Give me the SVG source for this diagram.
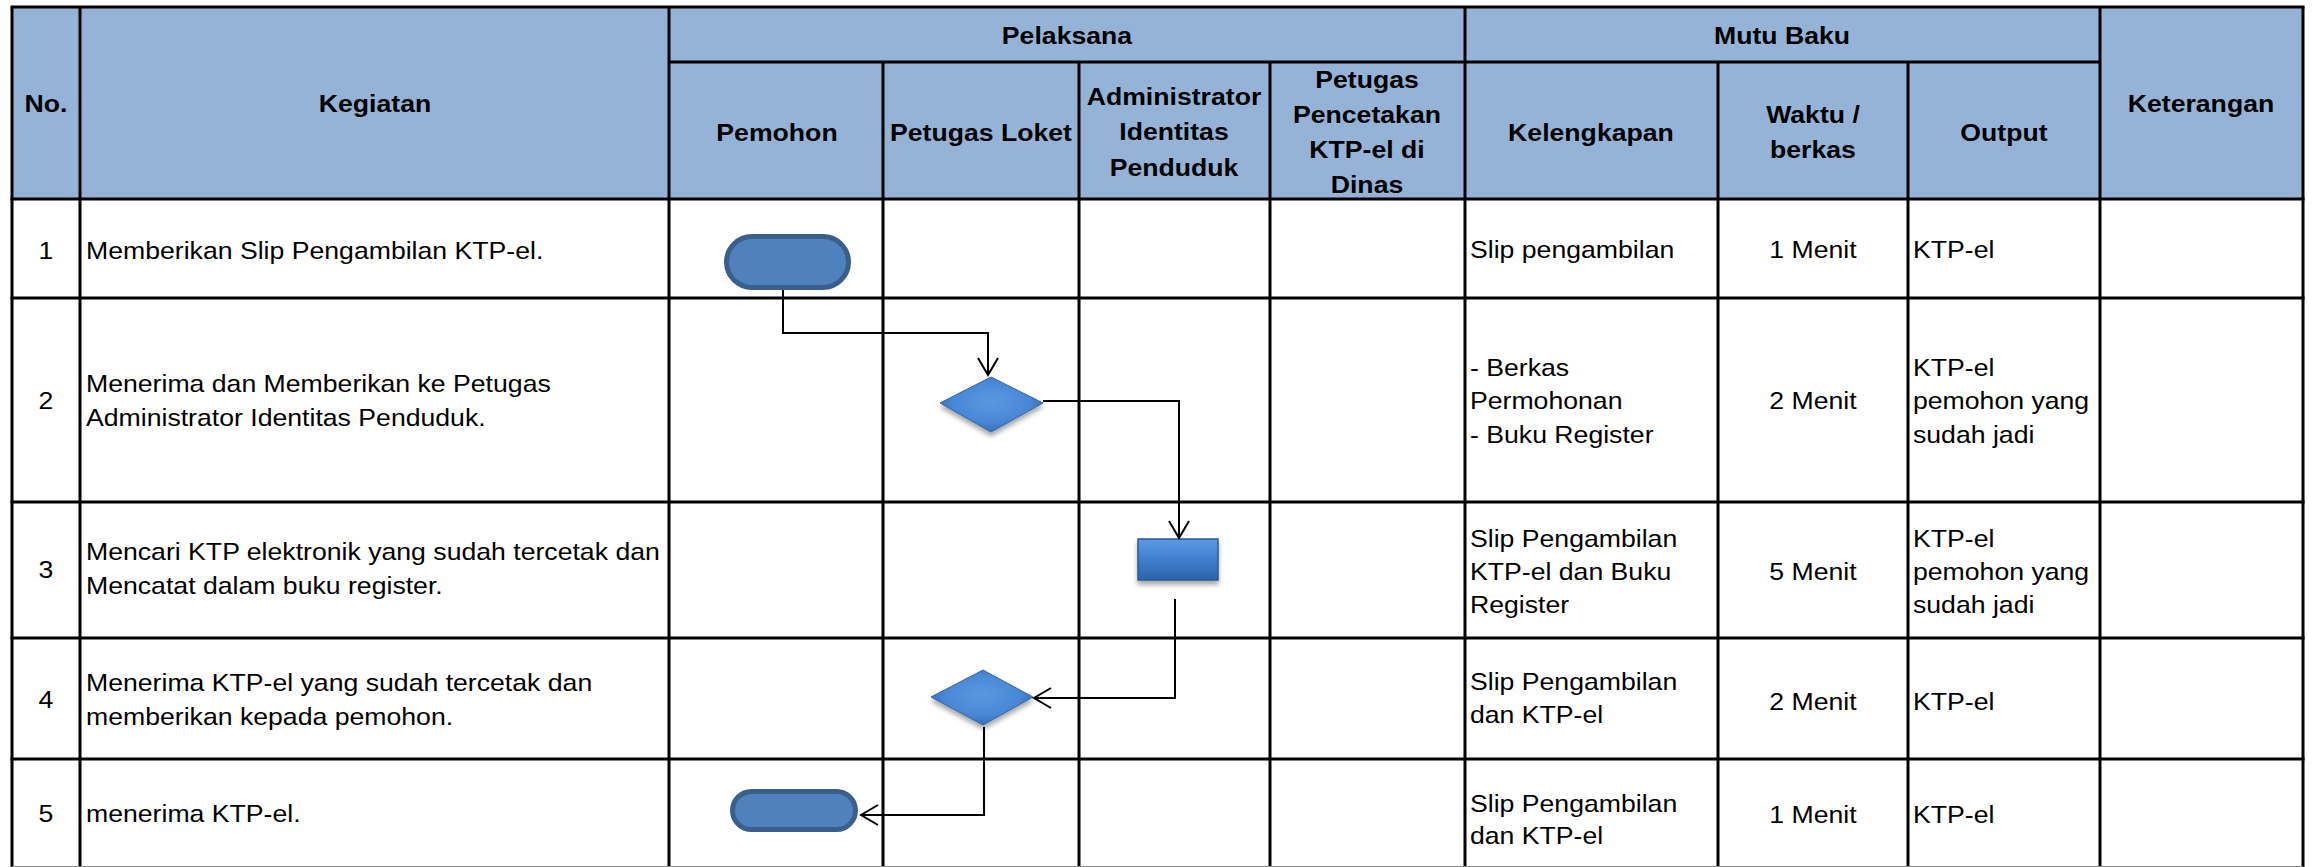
<svg xmlns="http://www.w3.org/2000/svg" width="2315" height="867" viewBox="0 0 2315 867">
<style>
.hd{font-family:"Liberation Sans",Arial,sans-serif;font-size:24px;font-weight:bold;fill:#000;text-anchor:middle}
.tx{font-family:"Liberation Sans",Arial,sans-serif;font-size:24px;fill:#000}
.c{text-anchor:middle}
.grid{stroke:#000;stroke-width:3;fill:none}
.conn{stroke:#000;stroke-width:2;fill:none}
.term{fill:#4F81BD;stroke:#3A5F8D;stroke-width:5}
.dec{fill:url(#gDia);stroke:#3566A6;stroke-width:1;filter:url(#sh)}
.proc{fill:url(#gRect);stroke:#2A5A98;stroke-width:1.5;filter:url(#sh)}
</style>
<defs>
<radialGradient id="gDia" cx="0.5" cy="0.45" r="0.6">
<stop offset="0" stop-color="#5B98E0"/>
<stop offset="0.6" stop-color="#4A88D6"/>
<stop offset="1" stop-color="#2E68B2"/>
</radialGradient>
<linearGradient id="gRect" x1="0" y1="0" x2="0" y2="1">
<stop offset="0" stop-color="#5F9BE3"/>
<stop offset="0.5" stop-color="#3F7FCF"/>
<stop offset="1" stop-color="#2C62AA"/>
</linearGradient>
<filter id="sh" x="-20%" y="-20%" width="140%" height="160%">
<feGaussianBlur in="SourceAlpha" stdDeviation="2.5"/>
<feOffset dx="0" dy="4" result="b"/>
<feComponentTransfer><feFuncA type="linear" slope="0.35"/></feComponentTransfer>
<feMerge><feMergeNode/><feMergeNode in="SourceGraphic"/></feMerge>
</filter>
<marker id="arr" viewBox="0 0 20 22" refX="18" refY="11" markerWidth="20" markerHeight="22" markerUnits="userSpaceOnUse" orient="auto">
<path d="M1 1 L18 11 L1 21" fill="none" stroke="#000" stroke-width="2"/>
</marker>
</defs>
<rect width="2315" height="867" fill="#fff"/>
<g id="table">
<rect x="12" y="7" width="2291" height="192" fill="#95B3D7"/>
<g class="grid">
<line x1="10.5" y1="7" x2="2304.5" y2="7"/>
<line x1="669" y1="62" x2="2100" y2="62"/>
<line x1="10.5" y1="199" x2="2304.5" y2="199"/>
<line x1="10.5" y1="298" x2="2304.5" y2="298"/>
<line x1="10.5" y1="502" x2="2304.5" y2="502"/>
<line x1="10.5" y1="638" x2="2304.5" y2="638"/>
<line x1="10.5" y1="759" x2="2304.5" y2="759"/>
<line x1="12" y1="7" x2="12" y2="867"/>
<line x1="80" y1="7" x2="80" y2="867"/>
<line x1="669" y1="7" x2="669" y2="867"/>
<line x1="1465" y1="7" x2="1465" y2="867"/>
<line x1="2100" y1="7" x2="2100" y2="867"/>
<line x1="2303" y1="7" x2="2303" y2="867"/>
<line x1="883" y1="62" x2="883" y2="867"/>
<line x1="1079" y1="62" x2="1079" y2="867"/>
<line x1="1270" y1="62" x2="1270" y2="867"/>
<line x1="1718" y1="62" x2="1718" y2="867"/>
<line x1="1908" y1="62" x2="1908" y2="867"/>
</g>
<line x1="12" y1="866.5" x2="2303" y2="866.5" stroke="#888" stroke-width="1"/>
</g>
<g transform="scale(1.11,1)">
<g id="header">
<text class="hd" x="41.44" y="112">No.</text>
<text class="hd" x="337.84" y="112">Kegiatan</text>
<text class="hd" x="961.26" y="44">Pelaksana</text>
<text class="hd" x="1605.41" y="44">Mutu Baku</text>
<text class="hd" x="1982.88" y="112">Keterangan</text>
<text class="hd" x="700" y="141">Pemohon</text>
<text class="hd" x="883.78" y="141">Petugas Loket</text>
<text class="hd" x="1057.66" y="105">Administrator</text>
<text class="hd" x="1057.66" y="140">Identitas</text>
<text class="hd" x="1057.66" y="176">Penduduk</text>
<text class="hd" x="1231.53" y="88">Petugas</text>
<text class="hd" x="1231.53" y="123">Pencetakan</text>
<text class="hd" x="1231.53" y="158">KTP-el di</text>
<text class="hd" x="1231.53" y="193">Dinas</text>
<text class="hd" x="1433.33" y="141">Kelengkapan</text>
<text class="hd" x="1633.33" y="123">Waktu /</text>
<text class="hd" x="1633.33" y="158">berkas</text>
<text class="hd" x="1805.41" y="141">Output</text>
</g>
<g id="row1">
<text class="tx c" x="41.44" y="259">1</text>
<text class="tx" x="77.48" y="259">Memberikan Slip Pengambilan KTP-el.</text>
<text class="tx" x="1324.32" y="258">Slip pengambilan</text>
<text class="tx c" x="1633.33" y="258">1 Menit</text>
<text class="tx" x="1723.42" y="258">KTP-el</text>
</g>
<g id="row2">
<text class="tx c" x="41.44" y="409">2</text>
<text class="tx" x="77.48" y="392">Menerima dan Memberikan ke Petugas</text>
<text class="tx" x="77.48" y="426">Administrator Identitas Penduduk.</text>
<text class="tx" x="1324.32" y="376">- Berkas</text>
<text class="tx" x="1324.32" y="409">Permohonan</text>
<text class="tx" x="1324.32" y="443">- Buku Register</text>
<text class="tx c" x="1633.33" y="409">2 Menit</text>
<text class="tx" x="1723.42" y="376">KTP-el</text>
<text class="tx" x="1723.42" y="409">pemohon yang</text>
<text class="tx" x="1723.42" y="443">sudah jadi</text>
</g>
<g id="row3">
<text class="tx c" x="41.44" y="578">3</text>
<text class="tx" x="77.48" y="560">Mencari KTP elektronik yang sudah tercetak dan</text>
<text class="tx" x="77.48" y="594">Mencatat dalam buku register.</text>
<text class="tx" x="1324.32" y="547">Slip Pengambilan</text>
<text class="tx" x="1324.32" y="580">KTP-el dan Buku</text>
<text class="tx" x="1324.32" y="613">Register</text>
<text class="tx c" x="1633.33" y="580">5 Menit</text>
<text class="tx" x="1723.42" y="547">KTP-el</text>
<text class="tx" x="1723.42" y="580">pemohon yang</text>
<text class="tx" x="1723.42" y="613">sudah jadi</text>
</g>
<g id="row4">
<text class="tx c" x="41.44" y="708">4</text>
<text class="tx" x="77.48" y="691">Menerima KTP-el yang sudah tercetak dan</text>
<text class="tx" x="77.48" y="725">memberikan kepada pemohon.</text>
<text class="tx" x="1324.32" y="690">Slip Pengambilan</text>
<text class="tx" x="1324.32" y="723">dan KTP-el</text>
<text class="tx c" x="1633.33" y="710">2 Menit</text>
<text class="tx" x="1723.42" y="710">KTP-el</text>
</g>
<g id="row5">
<text class="tx c" x="41.44" y="822">5</text>
<text class="tx" x="77.48" y="822">menerima KTP-el.</text>
<text class="tx" x="1324.32" y="812">Slip Pengambilan</text>
<text class="tx" x="1324.32" y="844">dan KTP-el</text>
<text class="tx c" x="1633.33" y="823">1 Menit</text>
<text class="tx" x="1723.42" y="823">KTP-el</text>
</g>
</g>
<g id="node-start">
<rect class="term" x="726.5" y="236.5" width="122" height="51" rx="25.5"/>
</g>
<g id="node-loket1">
<polygon class="dec" points="991,377 1043,403 991,432 940,403"/>
</g>
<g id="node-admin">
<rect class="proc" x="1138" y="539" width="80" height="41"/>
</g>
<g id="node-loket2">
<polygon class="dec" points="983,670 1033,697 983,725 931,697"/>
</g>
<g id="node-end">
<rect class="term" x="732.5" y="791.5" width="123" height="38" rx="19"/>
</g>
<g id="connectors">
<path class="conn" d="M783 290 V333 H988 V375" marker-end="url(#arr)"/>
<path class="conn" d="M1043 401 H1179 V538" marker-end="url(#arr)"/>
<path class="conn" d="M1175 599 V698 H1034" marker-end="url(#arr)"/>
<path class="conn" d="M984 727 V815 H861" marker-end="url(#arr)"/>
</g>
</svg>
